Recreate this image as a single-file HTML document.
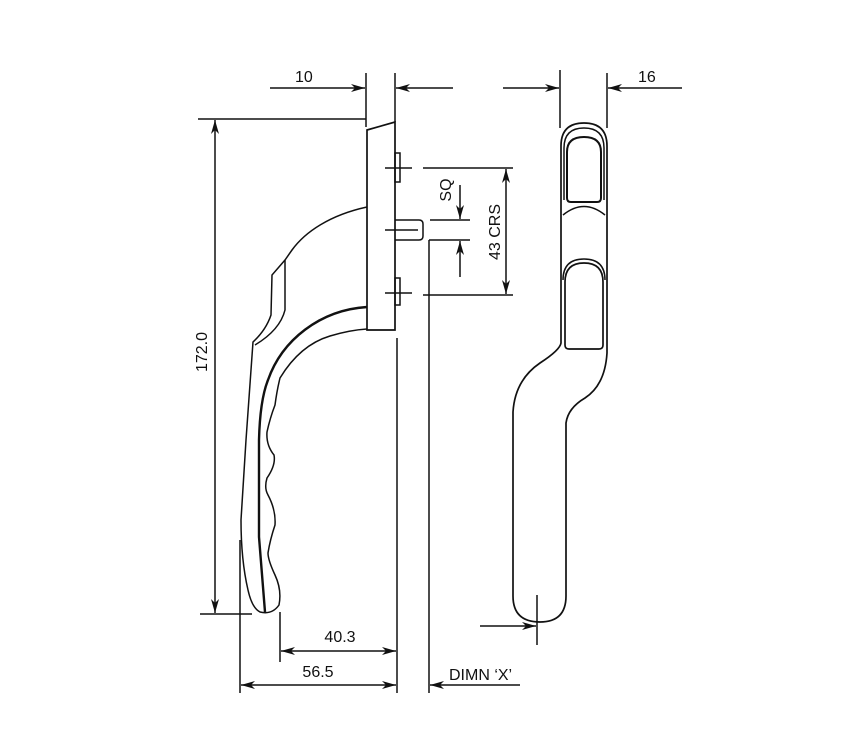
<!DOCTYPE html>
<html><head><meta charset="utf-8"><style>
html,body{margin:0;padding:0;background:#fff;}
svg{display:block;}
text{font-family:"Liberation Sans",sans-serif;font-size:16px;fill:#111;}
</style></head><body>
<svg width="852" height="746" viewBox="0 0 852 746" xmlns="http://www.w3.org/2000/svg">
<defs>
<marker id="a" viewBox="0 0 14 8" refX="14" refY="4" markerWidth="14" markerHeight="8" markerUnits="userSpaceOnUse" orient="auto">
<path d="M0,0 L14,4 L0,8 L4,4 Z" fill="#111"/>
</marker>
</defs>
<g stroke="#111" stroke-width="1.5" fill="none">
<line x1="366" y1="73" x2="366" y2="127"/>
<line x1="395" y1="73" x2="395" y2="122"/>
<line x1="270" y1="88" x2="365" y2="88" marker-end="url(#a)"/>
<line x1="453" y1="88" x2="396" y2="88" marker-end="url(#a)"/>
<line x1="198" y1="119" x2="366" y2="119"/>
<line x1="200" y1="614" x2="252" y2="614"/>
<line x1="215" y1="360" x2="215" y2="120" marker-end="url(#a)"/>
<line x1="215" y1="360" x2="215" y2="613" marker-end="url(#a)"/>
<path d="M367,130 L395,122 L395,330 L367,330 Z" stroke-width="1.7"/>
<rect x="395" y="153" width="5" height="29"/>
<rect x="395" y="278" width="5" height="27"/>
<line x1="385" y1="168" x2="412" y2="168"/>
<line x1="385" y1="293" x2="412" y2="293"/>
<path d="M395,220 L419,220 Q423,220 423,224 L423,236 Q423,240 419,240 L395,240"/>
<line x1="385" y1="230" x2="418" y2="230"/>
<line x1="423" y1="168" x2="513" y2="168"/>
<line x1="423" y1="295" x2="513" y2="295"/>
<line x1="430" y1="220" x2="470" y2="220"/>
<line x1="429" y1="240" x2="470" y2="240"/>
<line x1="460" y1="185" x2="460" y2="219" marker-end="url(#a)"/>
<line x1="460" y1="277" x2="460" y2="241" marker-end="url(#a)"/>
<line x1="506" y1="232" x2="506" y2="169" marker-end="url(#a)"/>
<line x1="506" y1="232" x2="506" y2="294" marker-end="url(#a)"/>
<line x1="429" y1="240" x2="429" y2="693"/>
<line x1="397" y1="338" x2="397" y2="693"/>
<path d="M367,207 C330,215 305,232 292,250 L285,260 L272,275 L271,315 Q266,330 253,342 L246,440 L241,520 Q241,560 248,590 Q252,608 260,612 Q272,615 279,605 Q282,590 275,575 Q268,560 268,553 Q270,540 275,525 Q276,510 268,495 Q264,488 267,478 Q276,465 274,455 Q266,445 267,432 Q270,418 275,405 Q277,390 280,378 Q300,345 330,336 Q350,330 367,329"/>
<path d="M285,260 L285,310 Q280,330 255,345"/>
<path d="M367,307 C320,310 282,340 268,380 Q260,400 259,440 L259,537 L265,612" stroke-width="2.4"/>
<line x1="280" y1="612" x2="280" y2="662"/>
<line x1="240" y1="540" x2="240" y2="693"/>
<line x1="338" y1="651" x2="281" y2="651" marker-end="url(#a)"/>
<line x1="338" y1="651" x2="396" y2="651" marker-end="url(#a)"/>
<line x1="318" y1="685" x2="241" y2="685" marker-end="url(#a)"/>
<line x1="318" y1="685" x2="396" y2="685" marker-end="url(#a)"/>
<line x1="520" y1="685" x2="430" y2="685" marker-end="url(#a)"/>
<line x1="560" y1="70" x2="560" y2="128"/>
<line x1="607" y1="73" x2="607" y2="128"/>
<line x1="503" y1="88" x2="559" y2="88" marker-end="url(#a)"/>
<line x1="682" y1="88" x2="608" y2="88" marker-end="url(#a)"/>
<path d="M561,343 L561,146 Q561,123 584,123 Q607,123 607,146 L607,353 Q605,385 585,398 Q568,408 566,423 L566,596 Q566,622 540,622 Q513,622 513,596 L513,412 Q515,380 540,363 Q560,350 561,343 Z" stroke-width="1.7"/>
<path d="M564,200 L564,148 Q564,128 584,128 Q604,128 604,148 L604,200"/>
<path d="M567,198 L567,152 Q567,137 584,137 Q601,137 601,152 L601,198 Q601,202 597,202 L571,202 Q567,202 567,198 Z" stroke-width="2"/>
<path d="M563,215 Q584,198 605,215"/>
<path d="M563,280 Q563,259 584,259 Q605,259 605,280"/>
<path d="M565,345 L565,282 Q565,263 584,263 Q603,263 603,282 L603,345 Q603,349 599,349 L569,349 Q565,349 565,345 Z" stroke-width="1.7"/>
<line x1="537" y1="595" x2="537" y2="645"/>
<line x1="480" y1="626" x2="536" y2="626" marker-end="url(#a)"/>
</g>
<text x="295" y="82">10</text>
<text x="638" y="82">16</text>
<text x="207" y="352" transform="rotate(-90 207 352)" text-anchor="middle">172.0</text>
<text x="451" y="190" transform="rotate(-90 451 190)" text-anchor="middle">SQ</text>
<text x="500" y="232" transform="rotate(-90 500 232)" text-anchor="middle">43 CRS</text>
<text x="340" y="642" text-anchor="middle">40.3</text>
<text x="318" y="677" text-anchor="middle">56.5</text>
<text x="449" y="680">DIMN ‘X’</text>
</svg>
</body></html>
